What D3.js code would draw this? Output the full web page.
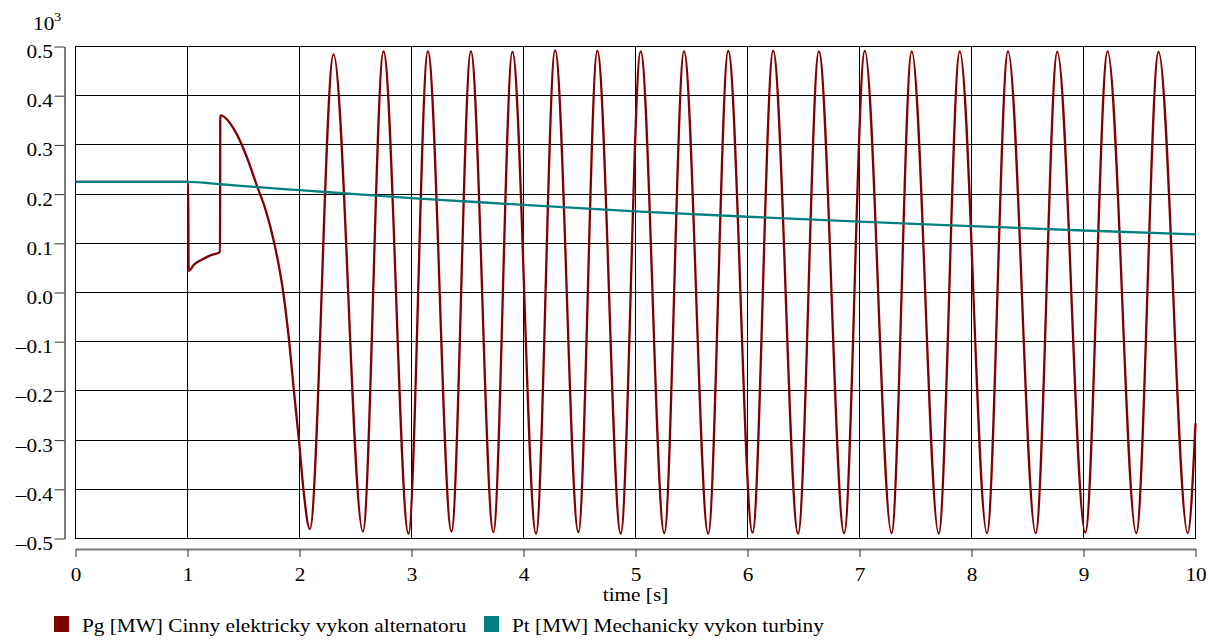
<!DOCTYPE html>
<html><head><meta charset="utf-8">
<script src="https://cdn.jsdelivr.net/npm/d3@7"></script>
<style>
body{margin:0;background:#fff}
svg{display:block}
text{font-family:"Liberation Serif","Times New Roman",serif;fill:#000}
</style>
</head><body>
<svg id="c" width="1216" height="643"></svg>
<script>
// ---- data (values in 10^3 MW) ----
const xTicks = [0,1,2,3,4,5,6,7,8,9,10];
const xTickLabels = ["0","1","2","3","4","5","6","7","8","9","10"];
const yTicks = [-0.5,-0.4,-0.3,-0.2,-0.1,0,0.1,0.2,0.3,0.4,0.5];
const yTickLabels = ["\u20130.5","\u20130.4","\u20130.3","\u20130.2","\u20130.1","0.0","0.1","0.2","0.3","0.4","0.5"];
const xTitle = "time [s]";
const seriesNames = ["Pg [MW] Cinny elektricky vykon alternatoru","Pt [MW] Mechanicky vykon turbiny"];

const pgTime = [0,1.006,1.01,1.06,1.13,1.21,1.29,1.293,1.43,1.525,1.62,1.70,1.77,1.855,1.908,1.95,1.995,2.035,2.092,
  2.304,2.566,2.750,2.973,3.146,3.357,3.530,3.731,3.901,4.112,4.282,4.490,4.659,4.868,5.046,5.257,5.433,5.649,
  5.828,6.045,6.229,6.452,6.637,6.863,7.047,7.286,7.466,7.707,7.895,8.138,8.326,8.573,8.766,9.016,9.215,9.471,
  9.670,9.931,10.0];
const pgValue = [0.225,0.225,0.044,0.057,0.067,0.076,0.082,0.360,0.326,0.278,0.217,0.166,0.105,0.0,-0.1,-0.2,-0.3,-0.4,-0.481,
  0.484,-0.486,0.490,-0.490,0.490,-0.486,0.490,-0.487,0.489,-0.490,0.492,-0.487,0.491,-0.490,0.490,-0.489,0.490,-0.490,
  0.491,-0.488,0.491,-0.490,0.490,-0.489,0.491,-0.489,0.490,-0.490,0.490,-0.489,0.490,-0.489,0.489,-0.488,0.490,-0.489,
  0.489,-0.489,-0.266];

const ptTime = [0,1,1.3,1.6,2,2.5,3,3.5,4,5,6,7,8,9,10];
const ptValue = [0.225,0.225,0.220,0.2145,0.208,0.200,0.192,0.185,0.178,0.165,0.154,0.144,0.135,0.126,0.118];

// ---- layout ----
const SX = 1.15;      // horizontal stretch of the text
const FS = 18.5;
const svg = d3.select("#c");
const x = d3.scaleLinear().domain([0,10]).range([75.5,1195.5]);
const y = d3.scaleLinear().domain([-0.5,0.5]).range([538.5,46.5]);

// grid
const grid = svg.append("g").attr("shape-rendering","crispEdges");
grid.selectAll("line.h").data(yTicks).join("line").attr("class","h")
  .attr("x1",x(0)).attr("x2",x(10)).attr("y1",d=>y(d)).attr("y2",d=>y(d))
  .attr("stroke","#000").attr("stroke-width",1);
grid.selectAll("line.v").data(xTicks).join("line").attr("class","v")
  .attr("x1",d=>x(d)).attr("x2",d=>x(d)).attr("y1",y(0.5)).attr("y2",y(-0.5))
  .attr("stroke","#000").attr("stroke-width",1);
grid.append("rect").attr("x",x(0)).attr("y",y(0.5)).attr("width",x(10)-x(0)).attr("height",y(-0.5)-y(0.5))
  .attr("fill","none").attr("stroke","#000").attr("stroke-width",1.3);

// y axis
const yAxis = d3.axisLeft(y).tickValues(yTicks).tickFormat((d,i)=>yTickLabels[i]).tickSizeInner(10).tickSizeOuter(0);
const gy = svg.append("g").attr("transform","translate(64.5,0)").call(yAxis)
  .attr("font-size",null).attr("font-family",null);
gy.select(".domain").attr("stroke","#7a7a7a").attr("stroke-width",2);
gy.selectAll(".tick line").attr("stroke","#333");
gy.selectAll(".tick text").attr("x",null).attr("y",null).attr("dy",null)
  .attr("transform",`translate(-11.5,11) scale(${SX},1)`).attr("text-anchor","end")
  .style("font-size",FS+"px");

// x axis
const xAxis = d3.axisBottom(x).tickValues(xTicks).tickFormat((d,i)=>xTickLabels[i]).tickSizeInner(8).tickSizeOuter(0);
const gx = svg.append("g").attr("transform","translate(0,549)").call(xAxis)
  .attr("font-size",null).attr("font-family",null);
gx.select(".domain").attr("stroke","#7a7a7a").attr("stroke-width",2);
gx.selectAll(".tick line").attr("stroke","#333");
gx.selectAll(".tick text").attr("x",null).attr("y",null).attr("dy",null)
  .attr("transform",`translate(0,32) scale(${SX},1)`).attr("text-anchor","middle")
  .style("font-size",FS+"px");

svg.append("text").attr("transform",`translate(${(x(0)+x(10))/2},601) scale(${SX},1)`)
  .attr("text-anchor","middle").style("font-size",FS+"px").text(xTitle);

// 10^3
svg.append("text").attr("transform",`translate(33,29.5) scale(${SX},1)`).style("font-size","18.5px").text("10");
svg.append("text").attr("transform",`translate(54,21) scale(${SX},1)`).style("font-size","12.5px").text("3");

// series
const line = d3.line().x(d=>x(d[0])).y(d=>y(d[1])).curve(d3.curveMonotoneX);
svg.append("path").datum(d3.zip(pgTime,pgValue)).attr("d",line)
  .attr("fill","none").attr("stroke","#800000").attr("stroke-width",2.3).attr("stroke-linejoin","round");
svg.append("path").datum(d3.zip(ptTime,ptValue)).attr("d",line)
  .attr("fill","none").attr("stroke","#008080").attr("stroke-width",2.3).attr("stroke-linejoin","round");

// legend
const legColors = ["#800000","#008080"];
const legX = [54,484];
const leg = svg.append("g");
seriesNames.forEach((n,i)=>{
  leg.append("rect").attr("x",legX[i]).attr("y",616).attr("width",15).attr("height",16).attr("fill",legColors[i]);
  leg.append("text").attr("transform",`translate(${legX[i]+28},632) scale(${SX},1)`)
    .style("font-size",FS+"px").text(n);
});
</script>
</body></html>
